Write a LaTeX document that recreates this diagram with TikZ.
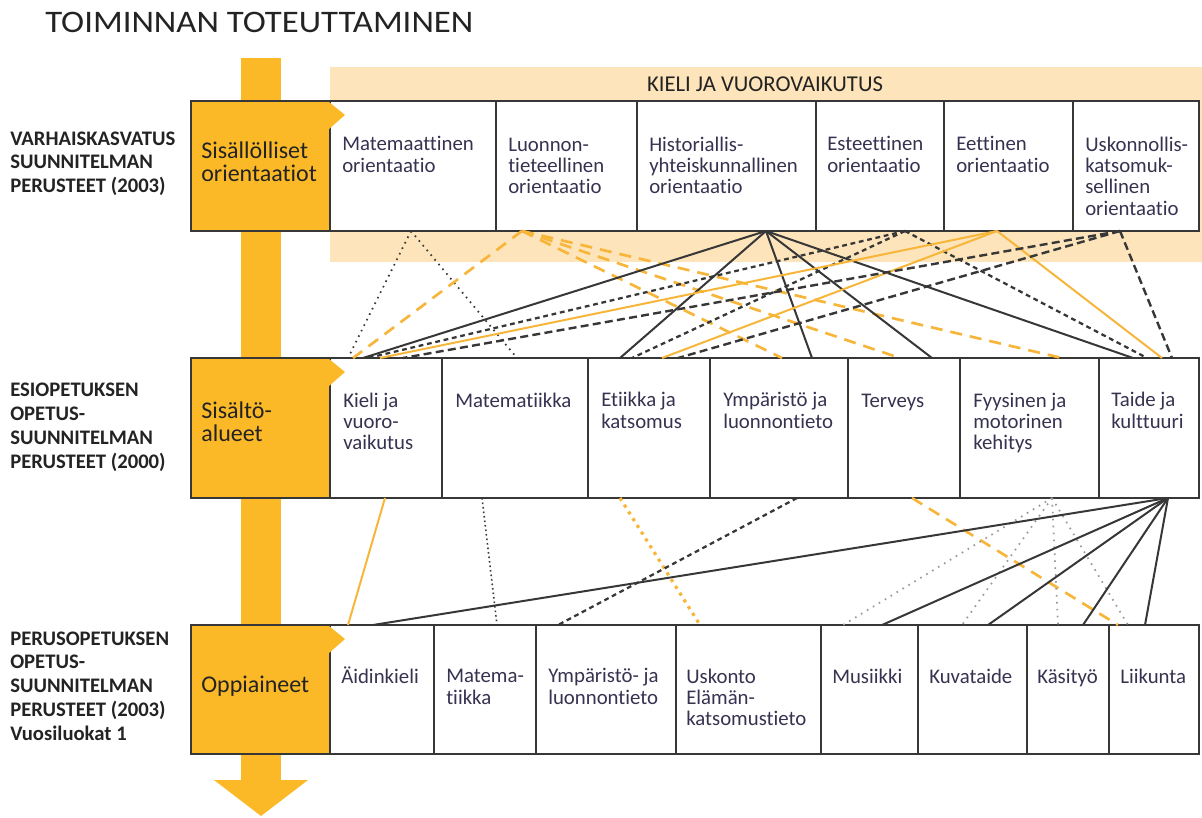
\documentclass[tikz,border=0pt]{standalone}
\usepackage{fontspec}
\setmainfont{Carlito}[Ligatures=NoCommon]
\usepackage{graphicx}
\usetikzlibrary{fit}

\definecolor{oranssi}{RGB}{251,185,40}
\definecolor{vaalea}{RGB}{253,228,186}
\definecolor{viiva}{RGB}{247,182,58}
\definecolor{reuna}{RGB}{55,55,55}
\definecolor{teksti}{RGB}{55,50,80}
\definecolor{tumma}{RGB}{35,35,35}

\tikzset{
  cell/.style={draw=reuna, line width=1.1pt, inner sep=0pt, fill=white},
  headcell/.style={cell, fill=oranssi},
  celltext/.style={anchor=base west, inner sep=0pt, align=left, text=teksti, font=\fontsize{15.6}{16}\selectfont},
  headtext/.style={anchor=base west, inner sep=0pt, align=left, text=tumma, font=\fontsize{18}{17.6}\selectfont},
  sidetext/.style={anchor=base west, inner sep=0pt, align=left, text=tumma, font=\fontsize{15.5}{17.8}\selectfont\bfseries},
  dotline/.style={draw=reuna, line width=1.3pt, dash pattern=on 1.2pt off 3.4pt},
  ddot/.style={draw=reuna, line width=1.2pt, dash pattern=on 1.2pt off 2.2pt},
  gdot/.style={draw=gray!80, line width=1.3pt, dash pattern=on 1.2pt off 4pt},
  odot/.style={draw=viiva, line width=2.4pt, dash pattern=on 2.4pt off 3.6pt},
  odash/.style={draw=viiva, line width=2pt, dash pattern=on 9pt off 6pt},
  oline/.style={draw=viiva, line width=1.5pt},
  solidline/.style={draw=reuna, line width=1.5pt},
  sdash/.style={draw=reuna, line width=1.7pt, dash pattern=on 3.6pt off 2.8pt},
  ldash/.style={draw=reuna, line width=1.8pt, dash pattern=on 6pt off 3.2pt}
}

\begin{document}
\begin{tikzpicture}[x=0.75pt, y=-0.75pt]
  \useasboundingbox (0,0) rectangle (1202,817);

  % taustat ja nuoli
  \fill[vaalea] (330,67) rectangle (1202,262);
  \fill[oranssi] (241,58) rectangle (281,781);
  \fill[oranssi] (214,780) -- (308,780) -- (261,816) -- cycle;

  \node[anchor=base west, inner sep=0pt, text=tumma, font=\fontsize{23.5}{27}\selectfont] (title) at (45,33) {\scalebox{1.11}[1]{TOIMINNAN TOTEUTTAMINEN}};
  \node[anchor=base, inner sep=0pt, text=tumma, font=\fontsize{17}{20}\selectfont] (band) at (765,92) {KIELI JA VUOROVAIKUTUS};

  % rivi 1
  \foreach \n/\a/\b in {matem/330/496, luonn/496/637, histo/637/816, estee/816/944, eetti/944/1073, uskon/1073/1199}
    \node[cell, fit={(\a,101) (\b,231)}] (\n) {};
  \node[headcell, fit={(191,101) (330,231)}] (sisall) {};

  % rivi 2
  \foreach \n/\a/\b in {kieli/330/442, matik/442/588, etiik/588/710, ympar/710/848, terve/848/960, fyysi/960/1099, taide/1099/1199}
    \node[cell, fit={(\a,358) (\b,498)}] (\n) {};
  \node[headcell, fit={(191,358) (330,498)}] (sisalt) {};

  % rivi 3
  \foreach \n/\a/\b in {aidin/330/434, matte/434/536, ymplu/536/676, uskel/676/821, musii/821/918, kuvat/918/1027, kasit/1027/1109, liiku/1109/1199}
    \node[cell, fit={(\a,625) (\b,754)}] (\n) {};
  \node[headcell, fit={(191,625) (330,754)}] (oppia) {};

  \foreach \t in {101,358,625}
    \fill[oranssi] (329,\t+1) -- (345,\t+14) -- (329,\t+28) -- cycle;

  % kiinnityspisteet
  \coordinate (sM) at (411,231);
  \coordinate (sL) at (522,231);
  \coordinate (sH) at (766,231);
  \coordinate (sEs) at (905,231);
  \coordinate (sEe) at (997,231);
  \coordinate (sU) at (1120,231);
  \foreach \n/\x in {k1/348, k2/353, k3/363, k4/368, k5/380, k6/403, m1/517, e1/620, e2/632, e3/662, e4/678, y1/782, y2/812, t1/900, t2/932, f1/1062, a1/1133, a2/1147, a3/1162, a4/1172}
    \coordinate (\n) at (\x,358);
  \coordinate (bKi) at (385,498);
  \coordinate (bMa) at (482,498);
  \coordinate (bEt) at (620,498);
  \coordinate (bYm) at (797,498);
  \coordinate (bTe) at (912,498);
  \coordinate (bFy) at (1052,498);
  \coordinate (bTa) at (1168,498);
  \foreach \n/\x in {p1/348, p2/373, p3/497, p4/558, p5/700, p6/843, p7/882, p8/962, p9/988, p10/1058, p11/1083, p12/1118, p13/1128, p14/1145}
    \coordinate (\n) at (\x,625);

  % yhteydet ylhaalla
  \draw[dotline] (sM) -- (k1);
  \draw[dotline] (sM) -- (m1);
  \foreach \q in {k2,y1,t1,f1}
    \draw[odash] (sL) -- (\q);
  \foreach \q in {k3,e1,y2,t2,a1}
    \draw[solidline] (sH) -- (\q);
  \foreach \q in {k4,e2,a2}
    \draw[sdash] (sEs) -- (\q);
  \foreach \q in {k5,e3,a3}
    \draw[oline] (sEe) -- (\q);
  \foreach \q in {k6,e4,a4}
    \draw[ldash] (sU) -- (\q);

  % yhteydet alhaalla
  \draw[oline] (bKi) -- (p1);
  \draw[ddot] (bMa) -- (p3);
  \draw[odot] (bEt) -- (p5);
  \draw[sdash] (bYm) -- (p4);
  \draw[odash] (bTe) -- (p12);
  \foreach \q in {p6,p8,p10,p13}
    \draw[gdot] (bFy) -- (\q);
  \foreach \q in {p2,p7,p9,p11,p14}
    \draw[solidline] (bTa) -- (\q);

  % tekstit (monirivisen solmun base = viimeisen rivin perusviiva)
  \node[sidetext] (varhais) at (10,192.5) {VARHAISKASVATUS\\SUUNNITELMAN\\PERUSTEET (2003)};
  \node[sidetext] (esiop) at (10,468) {ESIOPETUKSEN\\OPETUS-\\SUUNNITELMAN\\PERUSTEET (2000)};
  \node[sidetext] (perusop) at (10,740) {PERUSOPETUKSEN\\OPETUS-\\SUUNNITELMAN\\PERUSTEET (2003)\\Vuosiluokat 1};

  \node[headtext] (t-sisall) at (201,181.5) {Sisällölliset\\orientaatiot};
  \node[headtext] (t-sisalt) at (201,441.5) {Sisältö-\\alueet};
  \node[headtext] (t-oppia) at (201,692) {Oppiaineet};

  \node[celltext] (t-matem) at (342,172.3) {Matemaattinen\\orientaatio};
  \node[celltext] (t-luonn) at (508,193.7) {Luonnon-\\tieteellinen\\orientaatio};
  \node[celltext] (t-histo) at (649,193.7) {Historiallis-\\yhteiskunnallinen\\orientaatio};
  \node[celltext] (t-estee) at (827,172.3) {Esteettinen\\orientaatio};
  \node[celltext] (t-eetti) at (956,172.3) {Eettinen\\orientaatio};
  \node[celltext] (t-uskon) at (1085,215) {Uskonnollis-\\katsomuk-\\sellinen\\orientaatio};

  \node[celltext] (t-kieli) at (343,449.7) {Kieli ja\\vuoro-\\vaikutus};
  \node[celltext] (t-matik) at (455,407) {Matematiikka};
  \node[celltext] (t-etiik) at (601,428.3) {Etiikka ja\\katsomus};
  \node[celltext] (t-ympar) at (723,428.3) {Ympäristö ja\\luonnontieto};
  \node[celltext] (t-terve) at (861,407) {Terveys};
  \node[celltext] (t-fyysi) at (973,449.7) {Fyysinen ja\\motorinen\\kehitys};
  \node[celltext] (t-taide) at (1111,428.3) {Taide ja\\kulttuuri};

  \node[celltext] (t-aidin) at (341,683) {Äidinkieli};
  \node[celltext] (t-matte) at (446,704.3) {Matema-\\tiikka};
  \node[celltext] (t-ymplu) at (548,704.3) {Ympäristö- ja\\luonnontieto};
  \node[celltext] (t-uskel) at (686,725.7) {Uskonto\\Elämän-\\katsomustieto};
  \node[celltext] (t-musii) at (832,683) {Musiikki};
  \node[celltext] (t-kuvat) at (929,683) {Kuvataide};
  \node[celltext] (t-kasit) at (1037,683) {Käsityö};
  \node[celltext] (t-liiku) at (1120,683) {Liikunta};
\end{tikzpicture}
\end{document}
